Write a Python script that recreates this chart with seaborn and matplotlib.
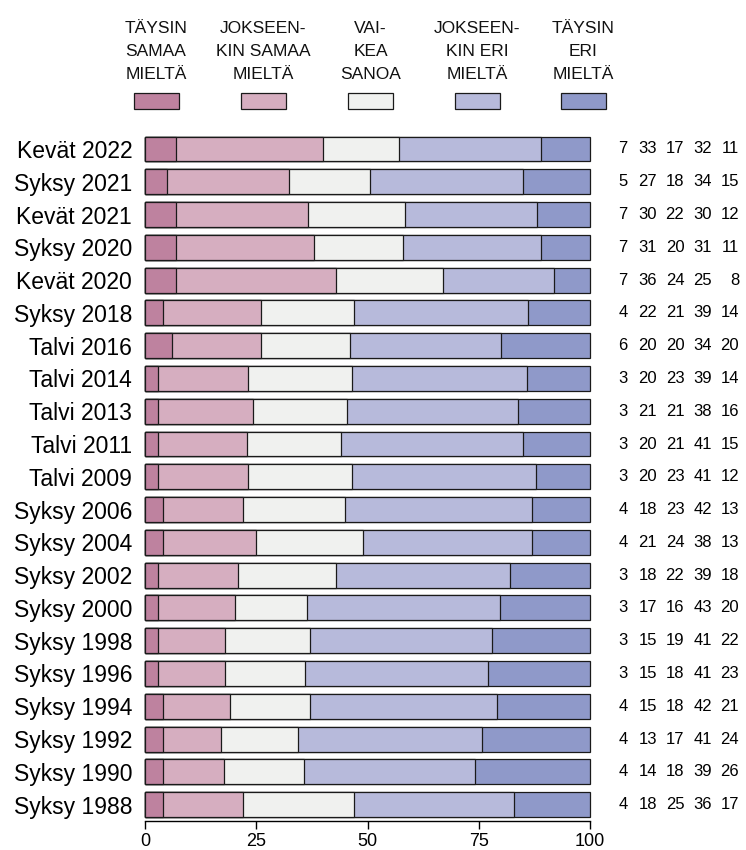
import numpy as np
import pandas as pd
import matplotlib
matplotlib.use("Agg")
import matplotlib.pyplot as plt
from matplotlib.patches import Rectangle
import seaborn as sns

# ---- data ----
periods = ["Kevät 2022", "Syksy 2021", "Kevät 2021", "Syksy 2020", "Kevät 2020",
           "Syksy 2018", "Talvi 2016", "Talvi 2014", "Talvi 2013", "Talvi 2011",
           "Talvi 2009", "Syksy 2006", "Syksy 2004", "Syksy 2002", "Syksy 2000",
           "Syksy 1998", "Syksy 1996", "Syksy 1994", "Syksy 1992", "Syksy 1990",
           "Syksy 1988"]
taysin_samaa = [7, 5, 7, 7, 7, 4, 6, 3, 3, 3, 3, 4, 4, 3, 3, 3, 3, 4, 4, 4, 4]
jokseenkin_samaa = [33, 27, 30, 31, 36, 22, 20, 20, 21, 20, 20, 18, 21, 18, 17, 15, 15, 15, 13, 14, 18]
vaikea_sanoa = [17, 18, 22, 20, 24, 21, 20, 23, 21, 21, 23, 23, 24, 22, 16, 19, 18, 18, 17, 18, 25]
jokseenkin_eri = [32, 34, 30, 31, 25, 39, 34, 39, 38, 41, 41, 42, 38, 39, 43, 41, 41, 42, 41, 39, 36]
taysin_eri = [11, 15, 12, 11, 8, 14, 20, 14, 16, 15, 12, 13, 13, 18, 20, 22, 23, 21, 24, 26, 17]

legend_labels = ["TÄYSIN\nSAMAA\nMIELTÄ", "JOKSEEN-\nKIN SAMAA\nMIELTÄ", "VAI-\nKEA\nSANOA",
                 "JOKSEEN-\nKIN ERI\nMIELTÄ", "TÄYSIN\nERI\nMIELTÄ"]
colors = ["#BE829F", "#D6AEC0", "#F0F1EF", "#B7BADB", "#8F99C9"]
xticks = [0, 25, 50, 75, 100]

series = [taysin_samaa, jokseenkin_samaa, vaikea_sanoa, jokseenkin_eri, taysin_eri]

# ---- figure ----
sns.set_theme(style="white")
plt.rcParams['font.family'] = ['Liberation Sans', 'DejaVu Sans']

W, H = 746, 850
fig = plt.figure(figsize=(W / 100, H / 100), dpi=100)
ax = fig.add_axes([145 / W, (H - 821) / H, 445 / W, (821 - 132.6) / H])

vals = np.array(series, dtype=float)          # 5 x n
totals = vals.sum(axis=0)
cum = np.cumsum(vals, axis=0) / totals * 100  # normalise each row to 100

# draw cumulative bars, longest first
for k in range(4, -1, -1):
    df = pd.DataFrame({"period": periods, "value": cum[k]})
    sns.barplot(data=df, y="period", x="value", order=periods, orient="h",
                color=colors[k], saturation=1, width=0.76,
                edgecolor="#1a1a1a", linewidth=0.9, ax=ax, errorbar=None)

for p in ax.patches:
    p.set_clip_on(False)

ax.set_xlim(0, 100)
ax.set_ylim(len(periods) - 0.5, -0.5)
ax.set_xlabel("")
ax.set_ylabel("")
for s in ["top", "right", "left"]:
    ax.spines[s].set_visible(False)
ax.spines["bottom"].set_color("black")
ax.spines["bottom"].set_linewidth(1.0)
ax.spines["bottom"].set_bounds(0, 100)
ax.set_xticks(xticks)
ax.set_xticklabels([str(t) for t in xticks])
ax.tick_params(axis="x", bottom=True, length=6, width=1.0, color="black",
               labelsize=13, pad=2.5, labelcolor="black")
ax.tick_params(axis="y", left=False, length=0, labelsize=16.5, pad=9.2, labelcolor="black")
ax.grid(False)

# numbers at right
num_x = [108.4, 115.1, 121.2, 127.4, 133.5]
for i in range(len(periods)):
    for k in range(5):
        ax.text(num_x[k], i, str(series[k][i]), ha="right", va="center",
                fontsize=12, color="black", clip_on=False)

# legend
leg_cx = [156, 263.5, 370.5, 477, 583]
baselines = [33, 56, 79]
narrow = ['Liberation Sans Narrow', 'Liberation Sans', 'DejaVu Sans']
for j, lab in enumerate(legend_labels):
    for li, line in enumerate(lab.split("\n")):
        fig.text(leg_cx[j] / W, 1 - baselines[li] / H, line, ha="center",
                 va="baseline", fontsize=12.5, family=narrow, color="#111111")
    fig.patches.append(Rectangle(((leg_cx[j] - 22.5) / W, 1 - 109.3 / H), 45 / W, 16.6 / H,
                                 transform=fig.transFigure, facecolor=colors[j],
                                 edgecolor="#1a1a1a", linewidth=0.9))

fig.savefig("out.png", dpi=100)
